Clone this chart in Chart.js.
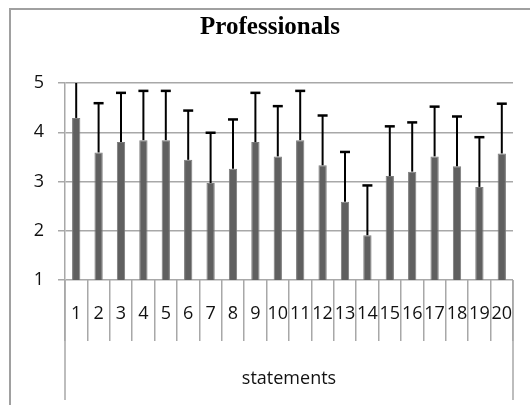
<!DOCTYPE html>
<html lang="en">
<head>
    <meta charset="UTF-8">
    <title>Professionals</title>
    <style>
        body {
            margin: 0;
            background: #ffffff;
            overflow: hidden;
        }
        #chartContainer {
            position: relative;
            width: 530px;
            height: 405px;
        }
    </style>
    <script src="https://cdn.jsdelivr.net/npm/chart.js"></script>
</head>
<body>
    <div id="chartContainer">
        <canvas id="profChart"></canvas>
    </div>

    <script>
        // statements 1..20
        const statements = ['1', '2', '3', '4', '5', '6', '7', '8', '9', '10',
                            '11', '12', '13', '14', '15', '16', '17', '18', '19', '20'];
        // mean score per statement
        const means = [4.29, 3.59, 3.80, 3.84, 3.84, 3.44, 2.97, 3.26, 3.80, 3.51,
                       3.84, 3.33, 2.59, 1.91, 3.11, 3.20, 3.51, 3.31, 2.89, 3.57];
        // standard deviation (upper error bar)
        const sds = [1.00, 1.00, 1.00, 1.00, 1.00, 1.00, 1.02, 1.00, 1.00, 1.02,
                     1.00, 1.01, 1.01, 1.01, 1.01, 1.00, 1.01, 1.01, 1.01, 1.01];
        const yTicks = [1, 2, 3, 4, 5];

        const gridGray = '#a8a8a8';
        const labelFont = { family: 'Open Sans', size: 18 };

        // outer frame of the chart object
        const framePlugin = {
            id: 'frame',
            beforeDraw(chart) {
                const ctx = chart.ctx;
                ctx.save();
                ctx.strokeStyle = '#a0a0a0';
                ctx.lineWidth = 2;
                ctx.beginPath();
                ctx.moveTo(10, chart.height);
                ctx.lineTo(10, 9);
                ctx.lineTo(chart.width, 9);
                ctx.stroke();
                ctx.restore();
            }
        };

        // the outer edges of the category table run down past the axis title
        const tableEdges = {
            id: 'tableEdges',
            afterDraw(chart) {
                const ctx = chart.ctx;
                const area = chart.chartArea;
                ctx.save();
                ctx.strokeStyle = gridGray;
                ctx.lineWidth = 1.5;
                ctx.beginPath();
                ctx.moveTo(area.left, area.bottom);
                ctx.lineTo(area.left, 400);
                ctx.moveTo(area.right, area.bottom);
                ctx.lineTo(area.right, 400);
                ctx.stroke();
                ctx.restore();
            }
        };

        // upper error bars from the sd array
        const errorBars = {
            id: 'errorBars',
            afterDatasetsDraw(chart) {
                const ctx = chart.ctx;
                const area = chart.chartArea;
                const yScale = chart.scales.y;
                const meta = chart.getDatasetMeta(0);
                ctx.save();
                ctx.strokeStyle = '#000000';
                meta.data.forEach((bar, i) => {
                    const top = yScale.getPixelForValue(means[i] + sds[i]);
                    const yEnd = Math.max(top, area.top);
                    ctx.lineWidth = 2;
                    ctx.beginPath();
                    ctx.moveTo(bar.x, bar.y);
                    ctx.lineTo(bar.x, yEnd);
                    ctx.stroke();
                    if (top >= area.top) {
                        ctx.lineWidth = 2.5;
                        ctx.beginPath();
                        ctx.moveTo(bar.x - 5, top);
                        ctx.lineTo(bar.x + 5, top);
                        ctx.stroke();
                    }
                });
                ctx.restore();
            }
        };

        const ctx = document.getElementById('profChart').getContext('2d');
        new Chart(ctx, {
            type: 'bar',
            data: {
                labels: statements,
                datasets: [{
                    label: 'Professionals',
                    data: means,
                    backgroundColor: '#606060',
                    borderColor: '#7c7c7c',
                    borderWidth: 1,
                    barPercentage: 0.37,
                    categoryPercentage: 1.0
                }]
            },
            plugins: [framePlugin, tableEdges, errorBars],
            options: {
                responsive: true,
                maintainAspectRatio: false,
                animation: false,
                layout: {
                    padding: { left: 10, right: 0, top: 0, bottom: 0 }
                },
                scales: {
                    x: {
                        grid: {
                            display: true,
                            drawOnChartArea: false,
                            drawTicks: true,
                            tickLength: 61,
                            color: gridGray,
                            lineWidth: 1.5
                        },
                        border: { display: false },
                        ticks: {
                            autoSkip: false,
                            maxRotation: 0,
                            minRotation: 0,
                            padding: -38,
                            color: '#111111',
                            font: labelFont
                        },
                        title: {
                            display: true,
                            text: 'statements',
                            color: '#111111',
                            font: labelFont,
                            padding: { top: 0, bottom: 15 }
                        },
                        afterFit(scale) {
                            scale.height = 125;
                        }
                    },
                    y: {
                        min: 1,
                        max: 5,
                        afterBuildTicks(scale) {
                            scale.ticks = yTicks.map(v => ({ value: v }));
                        },
                        grid: {
                            color: gridGray,
                            lineWidth: 1.5,
                            tickLength: 7
                        },
                        border: { display: true, color: gridGray, width: 1.5 },
                        ticks: {
                            padding: 14,
                            color: '#111111',
                            font: labelFont
                        },
                        afterFit(scale) {
                            scale.width = 55;
                        }
                    },
                    yPad: {
                        position: 'right',
                        display: true,
                        grid: { display: false },
                        border: { display: false },
                        ticks: { display: false },
                        afterFit(scale) {
                            scale.width = 17;
                        }
                    }
                },
                plugins: {
                    legend: { display: false },
                    tooltip: { enabled: false },
                    title: {
                        display: true,
                        text: 'Professionals',
                        color: '#000000',
                        font: { family: 'Liberation Serif', size: 25, weight: 'bold' },
                        padding: { top: 13, bottom: 40 }
                    }
                }
            }
        });
    </script>
</body>
</html>
